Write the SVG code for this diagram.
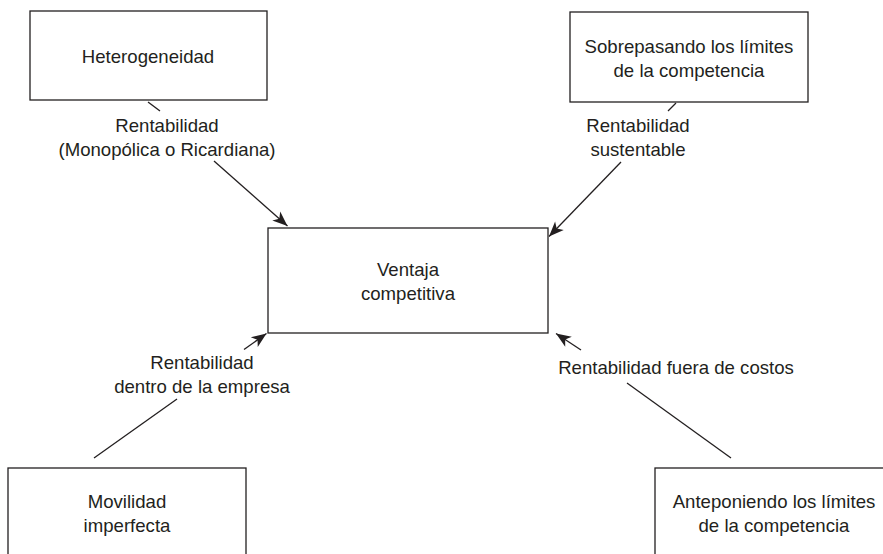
<svg xmlns="http://www.w3.org/2000/svg" width="883" height="554" viewBox="0 0 883 554">
  <style>
    .box { fill: #ffffff; stroke: #231f20; stroke-width: 1.3; }
    .lbl { font-family: "Liberation Sans", Arial, sans-serif; font-size: 18.6px; fill: #231f20; text-anchor: middle; }
    .conn { stroke: #231f20; stroke-width: 1.3; fill: none; }
  </style>
  <defs>
    <marker id="arrow" markerUnits="userSpaceOnUse" viewBox="-16 -7 17 14" markerWidth="17" markerHeight="14" refX="0" refY="0" orient="auto">
      <path d="M0,0 L-15,-6 L-11,0 L-15,6 Z" fill="#231f20"/>
    </marker>
  </defs>
  <rect width="883" height="554" fill="#ffffff"/>

  <g id="connectors">
    <line class="conn" x1="148" y1="102" x2="160" y2="111"/>
    <line class="conn" x1="214" y1="161" x2="287.5" y2="226" marker-end="url(#arrow)"/>
    <line class="conn" x1="676" y1="103" x2="668" y2="111"/>
    <line class="conn" x1="621" y1="162" x2="549" y2="236.5" marker-end="url(#arrow)"/>
    <line class="conn" x1="94" y1="458" x2="177" y2="399"/>
    <line class="conn" x1="244" y1="349.5" x2="266.5" y2="333.5" marker-end="url(#arrow)"/>
    <line class="conn" x1="627" y1="383" x2="731" y2="458"/>
    <line class="conn" x1="581" y1="350" x2="556" y2="333.5" marker-end="url(#arrow)"/>
  </g>

  <g id="node-heterogeneidad">
    <rect class="box" x="30" y="11" width="237" height="89"/>
    <text class="lbl" x="148" y="63">Heterogeneidad</text>
  </g>

  <g id="node-sobrepasando">
    <rect class="box" x="570" y="12" width="238" height="90"/>
    <text class="lbl" x="689" y="53">Sobrepasando los límites</text>
    <text class="lbl" x="689" y="77">de la competencia</text>
  </g>

  <g id="node-ventaja">
    <rect class="box" x="268" y="228" width="280" height="105"/>
    <text class="lbl" x="408" y="276">Ventaja</text>
    <text class="lbl" x="408" y="300">competitiva</text>
  </g>

  <g id="node-movilidad">
    <rect class="box" x="8" y="468" width="238" height="100"/>
    <text class="lbl" x="127" y="508">Movilidad</text>
    <text class="lbl" x="127" y="532">imperfecta</text>
  </g>

  <g id="node-anteponiendo">
    <rect class="box" x="655" y="468" width="238" height="100"/>
    <text class="lbl" x="774" y="508">Anteponiendo los límites</text>
    <text class="lbl" x="774" y="532">de la competencia</text>
  </g>

  <g id="edge-labels">
    <text class="lbl" x="167" y="132">Rentabilidad</text>
    <text class="lbl" x="167" y="156">(Monopólica o Ricardiana)</text>
    <text class="lbl" x="638" y="132">Rentabilidad</text>
    <text class="lbl" x="638" y="156">sustentable</text>
    <text class="lbl" x="202" y="369">Rentabilidad</text>
    <text class="lbl" x="202" y="393">dentro de la empresa</text>
    <text class="lbl" x="676" y="374">Rentabilidad fuera de costos</text>
  </g>
</svg>
